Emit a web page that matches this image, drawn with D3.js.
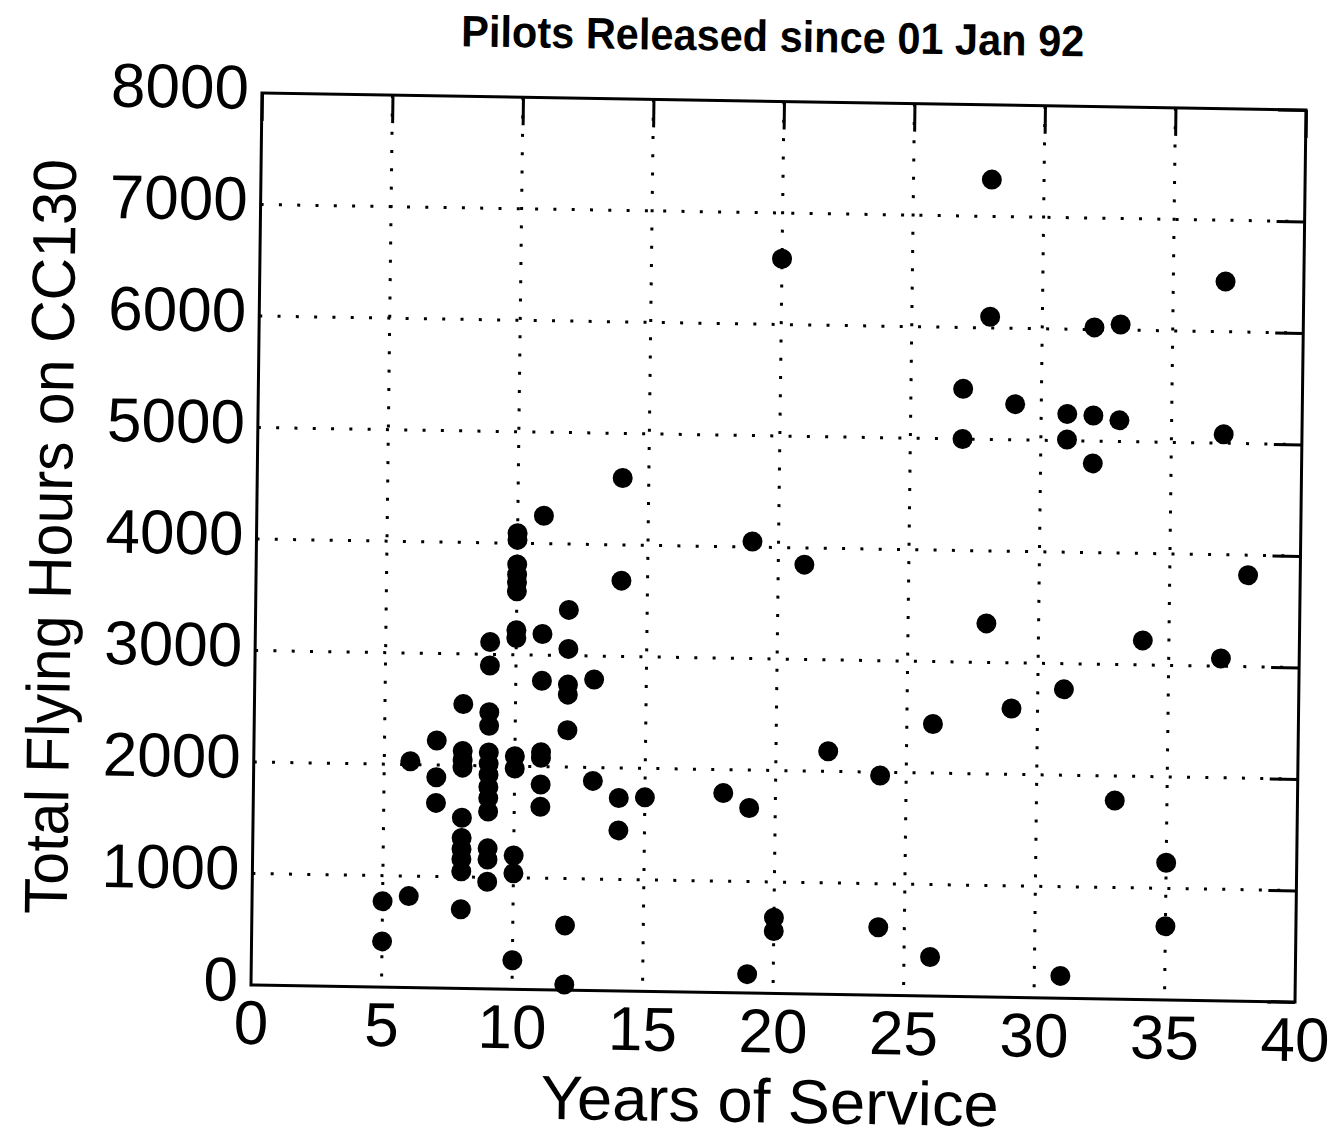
<!DOCTYPE html>
<html>
<head>
<meta charset="utf-8">
<script src="https://cdn.jsdelivr.net/npm/d3@7"></script>
<style>
  body { margin: 0; background: #fff; }
  text { font-family: 'Liberation Sans', Arial, Helvetica, sans-serif; fill: #000; }
</style>
</head>
<body>
<svg id="chart" width="1332" height="1138"></svg>
<script>
// years of service and CC130 hours, one entry per pilot
const years = [
  5, 5,
  6, 6,
  7, 7, 7,
  8, 8, 8, 8, 8, 8, 8, 8, 8, 8,
  9, 9, 9, 9, 9, 9, 9, 9, 9, 9, 9, 9, 9,
  10, 10, 10, 10, 10, 10, 10, 10, 10, 10, 10, 10, 10,
  11, 11, 11, 11, 11, 11, 11,
  12, 12, 12, 12, 12, 12, 12,
  13, 13,
  14, 14, 14, 14,
  15, 18,
  19, 19, 19,
  20, 20, 20,
  21, 22,
  24, 24,
  26, 26,
  27, 27,
  28, 28, 28,
  29, 29,
  31, 31, 31, 31,
  32, 32, 32,
  33, 33, 33,
  34,
  35, 35,
  37, 37, 37,
  38
];
const hours = [
  770, 410,
  2030, 820,
  2220, 1890, 1660,
  2550, 2130, 2050, 1980, 1530, 1350, 1250, 1160, 1050, 710,
  3110, 2900, 2480, 2360, 2120, 2020, 1920, 1810, 1710, 1590, 1260, 1160, 960,
  4090, 4030, 3810, 3720, 3650, 3570, 3220, 3150, 2090, 1980, 1200, 1040, 260,
  4250, 3190, 2770, 2130, 2080, 1840, 1640,
  3410, 3060, 2740, 2650, 2330, 580, 50,
  2790, 1880,
  4600, 3680, 1730, 1440,
  1740, 1790,
  4050, 1660, 170,
  6590, 680, 560,
  3850, 2180,
  1970, 610,
  2440, 350,
  5450, 5000,
  7330, 6100, 3350,
  5320, 2590,
  5240, 5010, 2770, 200,
  6020, 5230, 4800,
  6050, 5190, 1780,
  3220,
  1230, 660,
  6450, 5080, 3070,
  3820
];

const xTicks = [0, 5, 10, 15, 20, 25, 30, 35, 40];
const yTicks = [0, 1000, 2000, 3000, 4000, 5000, 6000, 7000, 8000];
const title = 'Pilots Released since 01 Jan 92';
const xTitle = 'Years of Service';
const yTitle = 'Total Flying Hours on CC130';

const margin = {top: 93, right: 37, bottom: 153, left: 251};
const width = 1332 - margin.left - margin.right;
const height = 1138 - margin.top - margin.bottom;

const x = d3.scaleLinear().domain([0, 40]).range([margin.left, margin.left + width]);
const y = d3.scaleLinear().domain([0, 8000]).range([margin.top + height, margin.top]);

const points = years.map((yr, i) => ({yr, hrs: hours[i]}));

// the scanned page sits slightly skewed
const page = d3.select('#chart')
  .append('g')
    .attr('transform', `translate(${x(0)},${y(0)}) matrix(1,0.0163,-0.0123,1,0,0) translate(${-x(0)},${-y(0)})`);

// dotted grid
page.append('g')
  .selectAll('line')
  .data(xTicks.slice(1, -1))
  .join('line')
    .attr('x1', d => x(d))
    .attr('x2', d => x(d))
    .attr('y1', y(8000))
    .attr('y2', y(0))
    .attr('stroke', '#000')
    .attr('stroke-width', 3)
    .attr('stroke-dasharray', '3 15.3');

page.append('g')
  .selectAll('line')
  .data(yTicks.slice(1, -1))
  .join('line')
    .attr('x1', x(0))
    .attr('x2', x(40))
    .attr('y1', d => y(d))
    .attr('y2', d => y(d))
    .attr('stroke', '#000')
    .attr('stroke-width', 3)
    .attr('stroke-dasharray', '3 15.3');

// inner ticks on top and right
page.append('g')
    .attr('transform', `translate(0,${y(8000)})`)
    .call(d3.axisTop(x).tickValues(xTicks).tickSize(-28).tickFormat(''))
    .call(g => g.select('.domain').remove())
    .call(g => g.selectAll('line').attr('stroke-width', 3));

page.append('g')
    .attr('transform', `translate(${x(40)},0)`)
    .call(d3.axisRight(y).tickValues(yTicks).tickSize(-28).tickFormat(''))
    .call(g => g.select('.domain').remove())
    .call(g => g.selectAll('line').attr('stroke-width', 3));

// tick labels
page.append('g')
    .attr('transform', `translate(0,${y(0)})`)
    .call(d3.axisBottom(x).tickValues(xTicks).tickSize(0).tickPadding(15).tickFormat(d3.format('d')))
    .call(g => g.select('.domain').remove())
    .call(g => g.selectAll('text')
      .attr('font-size', 62)
      .attr('font-family', "'Liberation Sans', Arial, sans-serif"));

page.append('g')
    .attr('transform', `translate(${x(0)},0)`)
    .call(d3.axisLeft(y).tickValues(yTicks).tickSize(0).tickPadding(13).tickFormat(d3.format('d')))
    .call(g => g.select('.domain').remove())
    .call(g => g.selectAll('text')
      .attr('dy', '0.25em')
      .attr('font-size', 62)
      .attr('font-family', "'Liberation Sans', Arial, sans-serif"));

// plot box
page.append('rect')
    .attr('x', x(0))
    .attr('y', y(8000))
    .attr('width', x(40) - x(0))
    .attr('height', y(0) - y(8000))
    .attr('fill', 'none')
    .attr('stroke', '#000')
    .attr('stroke-width', 3);

// pilots
page.append('g')
  .selectAll('circle')
  .data(points)
  .join('circle')
    .attr('cx', d => x(d.yr))
    .attr('cy', d => y(d.hrs))
    .attr('r', 10)
    .attr('fill', '#000');

// titles
page.append('text')
    .attr('x', 761)
    .attr('y', 43)
    .attr('text-anchor', 'middle')
    .attr('font-size', 44)
    .attr('font-weight', 'bold')
    .attr('textLength', 623)
    .attr('lengthAdjust', 'spacingAndGlyphs')
    .text(title);

page.append('text')
    .attr('x', 771)
    .attr('y', 1114)
    .attr('text-anchor', 'middle')
    .attr('font-size', 62)
    .attr('textLength', 458)
    .attr('lengthAdjust', 'spacingAndGlyphs')
    .text(xTitle);

page.append('text')
    .attr('transform', 'translate(66,540) rotate(-90)')
    .attr('text-anchor', 'middle')
    .attr('font-size', 61)
    .attr('textLength', 755)
    .attr('lengthAdjust', 'spacingAndGlyphs')
    .text(yTitle);
</script>
</body>
</html>
